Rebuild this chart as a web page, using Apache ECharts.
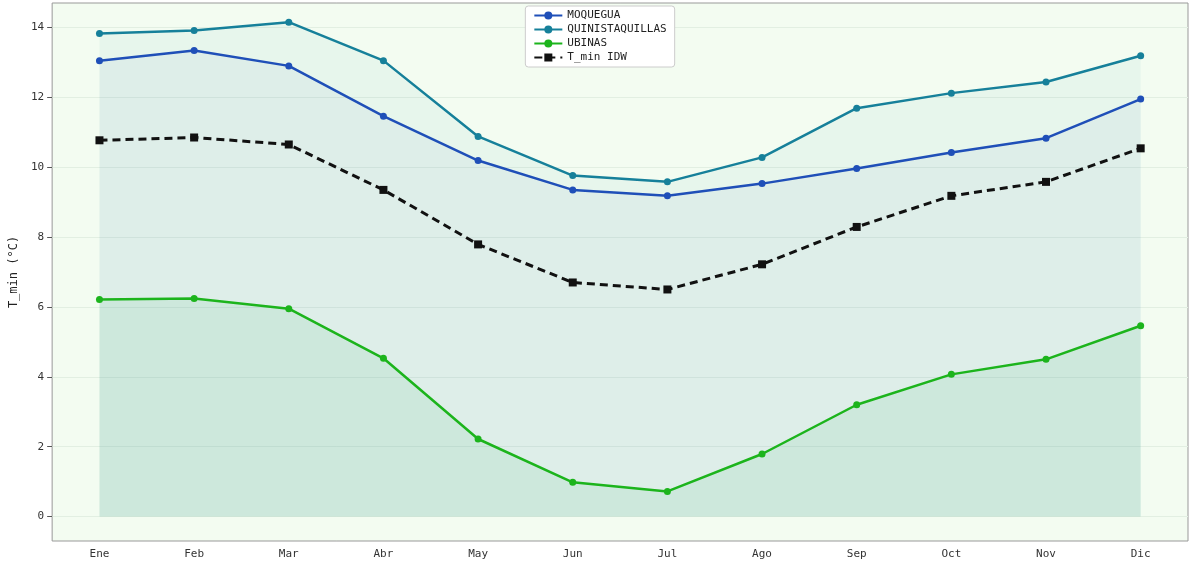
<!DOCTYPE html>
<html><head><meta charset="utf-8">
<script src="https://cdn.jsdelivr.net/npm/echarts@6/dist/echarts.min.js"></script>
<style>html,body{margin:0;padding:0;background:#fff}#c{width:1200px;height:571px}</style>
</head><body><div id="c"></div>
<script>
var months = ['Ene','Feb','Mar','Abr','May','Jun','Jul','Ago','Sep','Oct','Nov','Dic'];
var moquegua = [13.05,13.34,12.9,11.46,10.19,9.35,9.18,9.53,9.96,10.42,10.83,11.95];
var quinista = [13.83,13.91,14.15,13.05,10.88,9.76,9.58,10.28,11.69,12.12,12.44,13.19];
var ubinas = [6.21,6.24,5.95,4.53,2.22,0.98,0.72,1.79,3.2,4.07,4.5,5.46];
var idw = [10.77,10.85,10.65,9.35,7.79,6.7,6.5,7.22,8.29,9.18,9.58,10.54];
var yTicks = [0, 2, 4, 6, 8, 10, 12, 14];
var font = 'DejaVu Sans Mono';

function station(name, data, color, fill) {
  return {
    name: name, type: 'line', data: data, symbol: 'circle', symbolSize: 7,
    lineStyle: { color: color, width: 2.5 }, itemStyle: { color: color },
    areaStyle: { color: fill, origin: 0 }, z: 3
  };
}

var chart = echarts.init(document.getElementById('c'));
chart.setOption({
  backgroundColor: '#fff',
  textStyle: { fontFamily: font },
  grid: { left: 50, right: 12, top: 3, bottom: 30, show: true, backgroundColor: '#f3fcf1', borderColor: '#999', borderWidth: 1 },
  legend: {
    top: 6, left: 'center', orient: 'vertical', itemGap: 3, itemWidth: 28, itemHeight: 10,
    backgroundColor: '#fff', borderColor: '#ccc', borderWidth: 1, padding: [4, 8], borderRadius: 3,
    textStyle: { fontFamily: font, fontSize: 11, color: '#222' },
    data: ['MOQUEGUA', 'QUINISTAQUILLAS', 'UBINAS', 'T_min IDW']
  },
  xAxis: {
    type: 'category', data: months, boundaryGap: true,
    axisLine: { show: false }, axisTick: { alignWithLabel: true, lineStyle: { color: '#555' } },
    axisLabel: { fontFamily: font, fontSize: 11, color: '#333' },
    splitLine: { show: false }
  },
  yAxis: {
    type: 'value', min: -0.7, max: 14.7,
    name: 'T_min (°C)', nameLocation: 'middle', nameGap: 32,
    nameTextStyle: { fontFamily: font, fontSize: 12, color: '#222' },
    axisLine: { show: false },
    axisTick: { show: true, customValues: yTicks, lineStyle: { color: '#555' } },
    axisLabel: { fontFamily: font, fontSize: 11, color: '#333', customValues: yTicks },
    splitLine: { lineStyle: { color: '#e2efe2' } }
  },
  series: [
    station('MOQUEGUA', moquegua, '#1f4fb8', 'rgba(70,110,200,0.08)'),
    station('QUINISTAQUILLAS', quinista, '#16809a', 'rgba(40,150,170,0.08)'),
    station('UBINAS', ubinas, '#1cb41c', 'rgba(40,170,90,0.12)'),
    {
      name: 'T_min IDW', type: 'line', data: idw, symbol: 'rect', symbolSize: 8,
      lineStyle: { color: '#111', width: 3, type: [8, 5] }, itemStyle: { color: '#111' }, z: 4
    }
  ]
});
</script></body></html>
